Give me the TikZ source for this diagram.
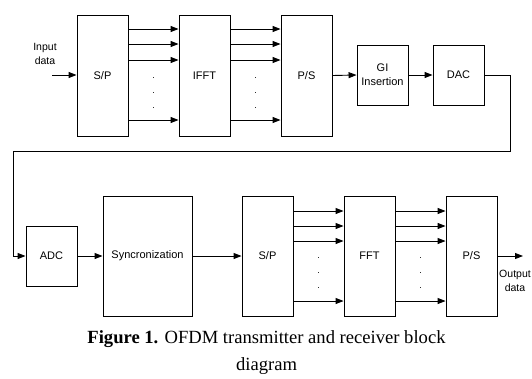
\documentclass[tikz,border=0pt]{standalone}
\usepackage{fontspec}
\setmainfont{Liberation Serif}
\newfontfamily\blockfont{Liberation Sans}
\usetikzlibrary{arrows.meta}
\begin{document}
\begin{tikzpicture}[x=1pt,y=-1pt,
  blk/.style={draw,line width=0.9pt,inner sep=0pt,font=\blockfont\fontsize{11}{14}\selectfont,align=center},
  tall/.style={blk,minimum width=51pt,minimum height=121pt},
  small/.style={blk,minimum width=51pt,minimum height=60pt},
  arr/.style={line width=0.9pt,-{Triangle[length=8pt,width=6pt]}},
  dotlbl/.style={font=\blockfont\fontsize{9}{9}\selectfont,inner sep=0pt},
  lbl/.style={font=\blockfont\fontsize{10.5}{14}\selectfont,align=center,inner sep=0pt}]
\useasboundingbox (0,0) rectangle (532,378);
% transmitter
\node[tall] (sp1) at (102.5,75.5) {S/P};
\node[tall] (ifft) at (204.5,75.5) {IFFT};
\node[tall] (ps1) at (306.5,75.5) {P/S};
\node[small] (gi) at (382.5,75) {GI\\Insertion};
\node[small] (dac) at (458.5,75) {DAC};
% receiver
\node[small] (adc) at (51.5,256) {ADC};
\node[blk,minimum width=89pt,minimum height=120pt] (sync) at (147.5,256) {Syncronization};
\node[tall,minimum height=120pt] (sp2) at (267.5,256) {S/P};
\node[tall,minimum height=120pt] (fft) at (369.5,256) {FFT};
\node[tall,minimum height=120pt] (ps2) at (471.5,256) {P/S};
% labels
\node[lbl] (inlbl) at (45,54) {Input\\data};
\node[lbl] (outlbl) at (515,281) {Output\\data};
\coordinate (in) at (52,75);
\coordinate (out) at (523,256);
\draw[arr] (in) -- (sp1.west |- in);
\draw[arr] (ps2.east |- out) -- (out);
% parallel arrows
\foreach \y in {29,44,60,120} {
  \draw[arr] (sp1.east |- 0,\y) -- (ifft.west |- 0,\y);
  \draw[arr] (ifft.east |- 0,\y) -- (ps1.west |- 0,\y);
}
\foreach \y in {211,226,241,301} {
  \draw[arr] (sp2.east |- 0,\y) -- (fft.west |- 0,\y);
  \draw[arr] (fft.east |- 0,\y) -- (ps2.west |- 0,\y);
}
\foreach \y [count=\i] in {78,93,108} {
  \node[dotlbl] (da\i) at (153.5,\y) {.};
  \node[dotlbl] (db\i) at (255.5,\y) {.};
}
\foreach \y [count=\i] in {258,273,288} {
  \node[dotlbl] (dc\i) at (318.5,\y) {.};
  \node[dotlbl] (dd\i) at (420.5,\y) {.};
}
\draw[arr] (ps1.east) -- (gi.west);
\draw[arr] (gi.east) -- (dac.west);
\coordinate (c1) at (510,151);
\coordinate (c2) at (13,151);
\draw[arr] (dac.east) -| (c1) -- (c2) |- (adc.west);
\draw[arr] (adc.east) -- (sync.west);
\draw[arr] (sync.east) -- (sp2.west);
% caption
\node[font=\fontsize{18.6}{27}\selectfont,align=center,inner sep=0pt,anchor=base] (cap) at (266.5,370) {\textbf{Figure 1.} OFDM transmitter and receiver block\\diagram};
\end{tikzpicture}
\end{document}
